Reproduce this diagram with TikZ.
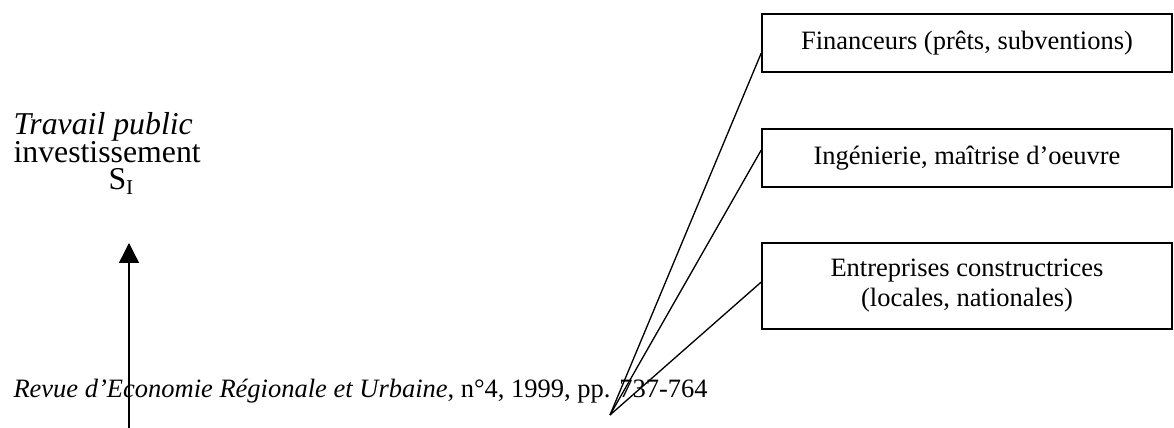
\documentclass[tikz,border=0pt]{standalone}
\usepackage{fontspec}
\setmainfont{Liberation Serif}
\usetikzlibrary{arrows.meta}

\begin{document}
\begin{tikzpicture}[x=0.3774pt,y=-0.3774pt,
    acteur/.style={draw,line width=0.8pt,rectangle,minimum width=154.5pt,minimum height=21.9pt,
                   inner sep=0pt,align=center,font=\fontsize{10}{11.3}\selectfont},
    texte/.style={anchor=base west,inner sep=0pt,font=\fontsize{12}{14}\selectfont}]
                \useasboundingbox (0,0) rectangle (1174,428);

                \node[texte] (travail) at (13,135) {\textit{Travail public}};
                \node[texte] (invest) at (13,163) {investissement};
                \node[texte] (si) at (108,190) {S\textsubscript{I}};
                \node[texte,font=\fontsize{10}{12}\selectfont] (revue) at (13,398) {\textit{Revue d'Economie Régionale et Urbaine}, n°4, 1999, pp. 737-764};

                \node[acteur] (fin) at (967,43) {Financeurs (prêts, subventions)};
                \node[acteur] (ing) at (967,158) {Ingénierie, maîtrise d'oeuvre};
                \node[acteur,minimum height=32.5pt] (entr) at (967,286) {Entreprises constructrices\\(locales, nationales)};

                \coordinate (pointe) at (610,415);
                \draw[line width=0.5pt] (pointe) -- ([yshift=-3.8pt]fin.west);
                \draw[line width=0.5pt] (pointe) -- ([yshift=3pt]ing.west);
                \draw[line width=0.5pt] (pointe) -- ([yshift=1.5pt]entr.west);

                \coordinate (bas) at (129,428);
                \coordinate (haut) at (129,243);
                \draw[line width=0.5pt,-{Triangle[width=7.5pt,length=7.5pt]}] (bas) -- (haut);
            \end{tikzpicture}
\end{document}
